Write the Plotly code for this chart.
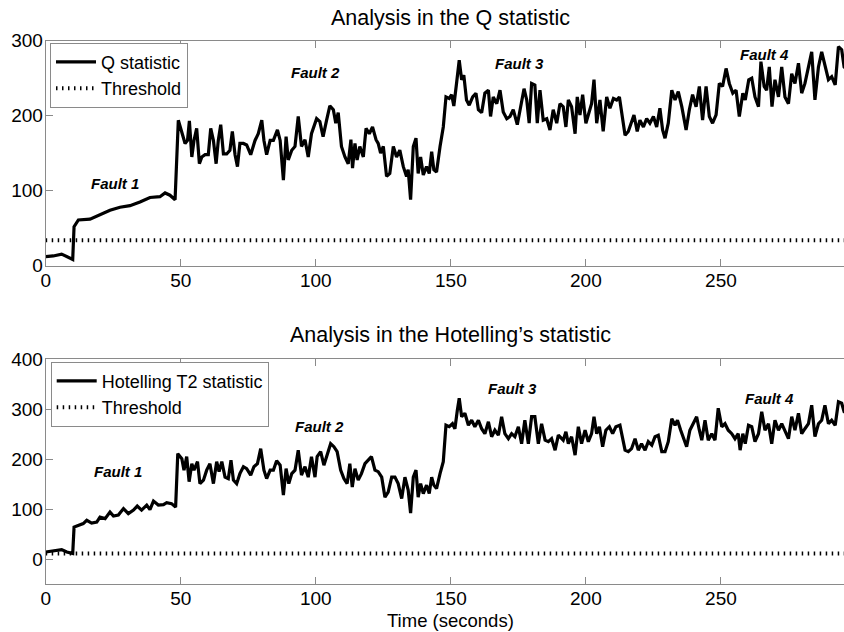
import plotly.graph_objects as go

# ---------------- data ----------------
q_time = [0, 2.8, 5.9, 7.8, 9.0, 10.0, 10.5, 12.1, 16.4, 20.1, 23.8, 27.5, 31.2, 34.9, 38.6, 42.3, 44.2, 46.0, 47.9,
          49.1, 50.7, 51.6, 52.5, 53.2, 54.1, 54.9, 55.9, 56.9, 57.8, 59.0, 60.2, 61.1, 62.1, 63.1, 63.9, 64.8, 65.8,
          67.0, 68.2, 69.1, 70.1, 71.0, 71.9, 73.2, 74.4, 75.9, 77.5, 78.7, 80.0, 80.8, 81.8, 83.1, 84.3, 85.8, 86.8,
          88.0, 89.0, 89.8, 91.1, 92.3, 93.5, 94.7, 96.0, 97.2, 98.4, 100.3, 101.5, 102.7, 104.0, 105.2, 106.5, 107.4,
          108.3, 109.5, 110.8, 112.0, 113.0, 113.6, 114.5, 115.3, 116.3, 117.6, 118.6, 119.8, 121.0, 122.3, 123.1,
          124.0, 125.0, 126.2, 127.4, 128.7, 129.9, 131.1, 132.4, 133.6, 134.2, 135.1, 136.1, 137.1, 137.9, 138.8,
          139.8, 141.0, 142.0, 142.9, 143.7, 144.7, 146.0, 147.2, 148.2, 149.4, 150.3, 151.1, 152.1, 153.1, 154.0,
          154.8, 155.8, 156.8, 158.1, 159.3, 160.2, 161.4, 162.6, 163.9, 164.7, 165.7, 167.0, 168.2, 169.4, 170.7,
          171.9, 173.1, 174.6, 175.6, 177.1, 178.1, 179.0, 179.9, 181.1, 182.0, 183.0, 184.2, 185.5, 186.7, 187.9,
          189.2, 190.4, 191.6, 192.6, 193.5, 194.7, 196.0, 196.8, 197.8, 198.8, 200.0, 201.3, 202.1, 203.0, 204.0,
          205.2, 206.4, 207.7, 208.9, 210.2, 211.4, 212.4, 213.2, 214.5, 215.7, 216.6, 217.8, 219.0, 220.0, 221.3,
          222.5, 223.7, 225.0, 226.2, 227.4, 228.4, 229.3, 230.5, 231.8, 233.0, 234.2, 235.5, 237.1, 238.3, 239.5,
          240.8, 242.0, 243.2, 244.5, 245.7, 246.9, 248.2, 249.4, 250.6, 251.9, 253.1, 254.4, 255.6, 256.8, 258.1,
          259.0, 260.3, 261.4, 262.6, 263.9, 264.8, 266.0, 266.9, 267.9, 268.9, 270.0, 271.3, 272.5, 273.7, 275.0,
          276.2, 277.4, 278.7, 279.9, 281.1, 282.4, 283.6, 284.8, 286.1, 287.3, 288.5, 289.8, 291.0, 292.3, 293.5,
          294.7, 295.6, 297.0]
q_value = [12, 13, 15.5, 12, 10, 8.4, 52, 61, 62, 67.5, 74, 78, 80, 85, 91, 92, 97, 94, 88,
           194, 174, 163, 167, 193, 145, 167, 183, 136, 145, 148, 148, 183, 167, 136, 167, 188, 149,
           149, 154, 179, 148, 132, 163, 163, 161, 148, 167, 176, 194, 167, 148, 167, 167, 181, 167,
           114, 172, 141, 154, 159, 199, 159, 168, 145, 176, 196, 192, 172, 194, 213, 208, 190,
           204, 159, 145, 136, 168, 130, 163, 141, 159, 145, 183, 176, 185, 168, 163,
           150, 159, 119, 123, 159, 145, 154, 132, 119, 128, 88, 159, 170, 123, 145,
           121, 132, 123, 152, 128, 125, 159, 185, 225, 223, 228, 213, 243, 274, 248,
           254, 221, 214, 225, 230, 208, 204, 230, 234, 199, 225, 216, 234, 205, 196,
           199, 208, 188, 208, 236, 221, 190, 243, 241, 190, 234, 194, 196, 181, 208,
           190, 216, 212, 185, 221, 212, 176, 225, 201, 228, 190, 208, 216, 248, 190,
           221, 179, 225, 210, 223, 221, 225, 203, 174, 179, 190, 201, 179, 194, 185,
           196, 190, 199, 185, 210, 181, 170, 190, 234, 221, 232, 212, 181, 208, 228,
           212, 239, 194, 239, 199, 190, 201, 243, 239, 263, 243, 230, 234, 199, 230,
           221, 248, 250, 225, 212, 272, 239, 234, 265, 212, 248, 225, 265, 225, 216,
           256, 243, 270, 230, 243, 265, 285, 221, 265, 285, 265, 248, 252, 241, 292,
           288, 265, 260]

t2_time = [0, 2.8, 5.9, 7.8, 10.0, 10.5, 12.1, 13.9, 15.2, 17.0, 18.9, 20.1, 22.0, 23.8, 25.1, 26.9, 28.8, 30.6,
           32.5, 33.9, 35.5, 37.4, 38.6, 39.9, 41.7, 43.6, 44.8, 46.6, 48.1, 48.9, 50.4, 51.2, 52.2, 53.1, 54.1,
           54.9, 56.2, 57.1, 58.4, 59.6, 60.8, 62.1, 63.3, 64.2, 65.2, 66.4, 67.6, 68.6, 69.5, 70.7, 71.9, 73.2,
           74.4, 75.9, 77.1, 78.4, 79.6, 80.8, 81.8, 83.1, 84.3, 85.5, 86.8, 88.0, 89.0, 90.0, 91.1, 92.3, 93.5,
           94.7, 96.0, 97.2, 98.4, 99.7, 100.5, 101.8, 103.0, 104.2, 105.5, 106.7, 107.9, 109.2, 110.4, 111.6,
           112.6, 113.5, 114.5, 115.7, 116.9, 118.2, 119.4, 120.6, 121.9, 123.1, 124.4, 125.6, 126.8, 128.1,
           129.3, 130.5, 131.8, 133.0, 134.2, 135.1, 136.1, 137.1, 137.9, 138.8, 139.8, 141.0, 142.0, 142.9,
           143.7, 144.7, 146.0, 147.2, 148.2, 149.4, 150.6, 151.5, 152.4, 153.1, 154.0, 155.2, 156.5, 157.7,
           158.9, 160.2, 161.4, 162.6, 163.9, 165.1, 166.3, 167.6, 168.8, 170.0, 171.3, 172.5, 173.7, 175.0,
           176.2, 177.4, 178.7, 179.9, 181.1, 182.4, 183.6, 184.9, 186.1, 187.3, 188.6, 189.8, 191.6, 192.6,
           193.5, 194.7, 196.0, 197.2, 198.4, 199.7, 200.9, 202.1, 203.0, 204.0, 205.0, 206.2, 207.4, 208.7,
           209.9, 211.1, 212.6, 213.6, 214.5, 215.7, 216.9, 218.2, 219.4, 220.6, 221.9, 223.1, 224.4, 225.6,
           226.8, 228.1, 229.3, 230.5, 231.8, 233.0, 233.9, 235.1, 236.1, 237.3, 238.5, 239.8, 241.0, 242.0,
           242.9, 244.1, 245.3, 246.6, 247.8, 249.0, 250.3, 251.5, 252.7, 254.0, 255.2, 256.4, 257.1, 258.1,
           259.0, 260.2, 261.4, 262.6, 263.9, 265.1, 266.3, 267.6, 268.8, 270.0, 271.3, 272.5, 273.7, 275.0,
           276.2, 277.4, 278.7, 279.9, 281.1, 282.4, 283.6, 284.8, 286.1, 287.3, 288.5, 289.8, 291.0, 292.3,
           293.5, 294.7, 295.6, 297.0]
t2_value = [14, 17, 19, 14, 11, 64, 67.5, 71, 77.5, 72, 74, 84, 81, 94, 86, 88, 101, 91,
            98, 106, 98, 108, 99, 116, 108, 109, 113, 111, 104, 211, 201, 178, 205, 155, 191,
            178, 195, 151, 158, 178, 191, 151, 195, 175, 195, 164, 161, 198, 158, 151, 171, 185,
            181, 168, 185, 191, 221, 178, 161, 178, 178, 197, 188, 128, 181, 151, 171, 178, 218,
            168, 185, 164, 205, 164, 205, 215, 188, 211, 231, 225, 215, 178, 161, 151,
            191, 144, 181, 158, 171, 191, 198, 205, 178, 175, 164, 124, 134, 164,
            164, 151, 121, 164, 138, 92, 164, 178, 124, 151, 131, 148, 131, 164,
            148, 141, 171, 195, 268, 265, 271, 261, 298, 322, 285, 292, 268, 278,
            265, 278, 261, 251, 275, 245, 258, 248, 285, 251, 241, 251, 245, 265,
            231, 278, 231, 285, 285, 231, 271, 238, 235, 241, 218, 248, 238, 255,
            231, 245, 208, 265, 231, 258, 235, 251, 285, 251, 265, 225, 258, 265,
            251, 265, 268, 238, 218, 215, 221, 241, 218, 231, 218, 235, 228, 245,
            248, 215, 215, 235, 281, 268, 278, 258, 241, 225, 258, 271, 285, 258,
            238, 278, 238, 251, 238, 302, 265, 271, 258, 251, 241, 251, 218, 251,
            231, 268, 265, 235, 251, 295, 258, 271, 231, 278, 258, 271, 255, 241,
            285, 258, 292, 251, 261, 271, 308, 245, 271, 278, 308, 271, 278, 268,
            315, 312, 295, 290]

threshold_time = [0, 300]
q_threshold = [34, 34]
t2_threshold = [11, 11]

x_ticks = [0, 50, 100, 150, 200, 250]
q_ticks = [0, 100, 200, 300]
t2_ticks = [0, 100, 200, 300, 400]

fault_labels = ["Fault 1", "Fault 2", "Fault 3", "Fault 4"]
q_fault_t = [25.7, 100, 175.6, 266.3]
q_fault_v = [110, 257, 270, 281]
t2_fault_t = [26.8, 101.2, 172.8, 267.8]
t2_fault_v = [175, 265, 341, 321]

# ---------------- figure ----------------
W, H = 844, 632
FONT = "Liberation Sans, Arial, Helvetica, sans-serif"
AXIS_GRAY = "#8a8a8a"
DOT = "1.5px,4.5px"

fig = go.Figure()

fig.add_trace(go.Scatter(x=q_time, y=q_value, mode="lines", name="Q statistic",
                         line=dict(color="black", width=3.2), xaxis="x", yaxis="y", legend="legend"))
fig.add_trace(go.Scatter(x=threshold_time, y=q_threshold, mode="lines", name="Threshold",
                         line=dict(color="black", width=4, dash=DOT), xaxis="x", yaxis="y", legend="legend"))
fig.add_trace(go.Scatter(x=t2_time, y=t2_value, mode="lines", name="Hotelling T2 statistic",
                         line=dict(color="black", width=3.2), xaxis="x2", yaxis="y2", legend="legend2"))
fig.add_trace(go.Scatter(x=threshold_time, y=t2_threshold, mode="lines", name="Threshold",
                         line=dict(color="black", width=4, dash=DOT), xaxis="x2", yaxis="y2", legend="legend2"))

x_left = 45.7 / W
x_range = [0, 295.56]

axis_common = dict(showline=True, linecolor=AXIS_GRAY, linewidth=1, ticks="inside", ticklen=7,
                   tickcolor=AXIS_GRAY, tickwidth=1, showgrid=False, zeroline=False,
                   tickfont=dict(family=FONT, size=19, color="black"), automargin=False)

fig.update_layout(
    width=W, height=H,
    margin=dict(l=0, r=0, t=0, b=0),
    paper_bgcolor="white", plot_bgcolor="white",
    font=dict(family=FONT, color="black"),
    xaxis=dict(domain=[x_left, 1], range=x_range, tickvals=x_ticks, mirror="ticks", anchor="y",
               ticklabelstandoff=-3, **axis_common),
    yaxis=dict(domain=[1 - 265.7 / H, 1 - 40.7 / H], range=[0, 300], tickvals=q_ticks, anchor="x",
               ticklabelstandoff=-2, **axis_common),
    xaxis2=dict(domain=[x_left, 1], range=x_range, tickvals=x_ticks, mirror="ticks", anchor="y2",
                ticklabelstandoff=-3, **axis_common),
    yaxis2=dict(domain=[1 - 584 / H, 1 - 359.3 / H], range=[-50, 400], tickvals=t2_ticks, anchor="x2",
                ticklabelstandoff=-2, **axis_common),
    legend=dict(x=50 / W, y=1 - 42.7 / H, xanchor="left", yanchor="top", bgcolor="white",
                bordercolor=AXIS_GRAY, borderwidth=1, font=dict(family=FONT, size=18, color="black"),
                itemwidth=40, tracegroupgap=0),
    legend2=dict(x=50.7 / W, y=1 - 361.7 / H, xanchor="left", yanchor="top", bgcolor="white",
                 bordercolor=AXIS_GRAY, borderwidth=1, font=dict(family=FONT, size=18, color="black"),
                 itemwidth=40, tracegroupgap=0),
    showlegend=True,
)

annotations = []
for lab, t, v in zip(fault_labels, q_fault_t, q_fault_v):
    annotations.append(dict(x=t, y=v, xref="x", yref="y", text="<b><i>%s</i></b>" % lab, showarrow=False,
                            xanchor="center", yanchor="middle",
                            font=dict(family=FONT, size=15, color="black")))
for lab, t, v in zip(fault_labels, t2_fault_t, t2_fault_v):
    annotations.append(dict(x=t, y=v, xref="x2", yref="y2", text="<b><i>%s</i></b>" % lab, showarrow=False,
                            xanchor="center", yanchor="middle",
                            font=dict(family=FONT, size=15, color="black")))

annotations.append(dict(x=450 / W, y=1 - 18 / H, xref="paper", yref="paper", text="Analysis in the Q statistic",
                        xanchor="center", yanchor="middle",
                        showarrow=False, font=dict(family=FONT, size=21.5, color="black")))
annotations.append(dict(x=450 / W, y=1 - 335 / H, xref="paper", yref="paper",
                        text="Analysis in the Hotelling\u2019s statistic", xanchor="center", yanchor="middle",
                        showarrow=False, font=dict(family=FONT, size=21.5, color="black")))
annotations.append(dict(x=450 / W, y=1 - 620 / H, xref="paper", yref="paper", text="Time (seconds)",
                        xanchor="center", yanchor="middle",
                        showarrow=False, font=dict(family=FONT, size=18.5, color="black")))
fig.update_layout(annotations=annotations)

fig.write_html("out.html")
